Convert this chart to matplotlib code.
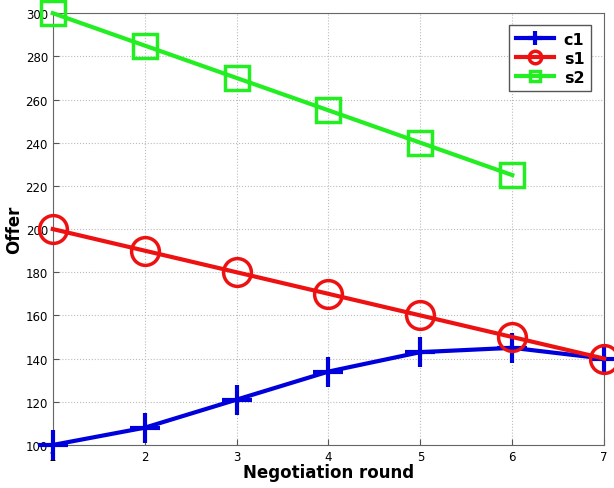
import matplotlib
matplotlib.use('Agg')
import matplotlib.pyplot as plt

rounds = [1, 2, 3, 4, 5, 6, 7]
c1 = [100, 108, 121, 134, 143, 145, 140]
s1 = [200, 190, 180, 170, 160, 150, 140]
s2_rounds = [1, 2, 3, 4, 5, 6]
s2 = [300, 285, 270, 255, 240, 225]

fig = plt.figure(figsize=(6.14, 4.89), dpi=100)
ax = fig.add_axes([0.086, 0.088, 0.898, 0.883])

ax.plot(rounds, c1, color='#0000dd', lw=3, marker='+', ms=22, mew=3, label='c1', clip_on=False, zorder=3)
ax.plot(rounds, s1, color='#ee1111', lw=3, marker='o', ms=20, mew=2.5, mfc='none', label='s1', clip_on=False, zorder=3)
ax.plot(s2_rounds, s2, color='#22ee22', lw=3, marker='s', ms=17, mew=2.5, mfc='none', label='s2', clip_on=False, zorder=3)

ax.set_xlim(1, 7)
ax.set_ylim(100, 300)
ax.set_xticks(rounds)
ax.set_yticks(range(100, 301, 20))
ax.tick_params(labelsize=8.5, direction='in', length=4, color='#555555')
ax.grid(True, linestyle=':', color='#bbbbbb', lw=0.8)
for sp in ax.spines.values():
    sp.set_color('#666666')

ax.set_xlabel('Negotiation round', fontsize=12, fontweight='bold', labelpad=0)
ax.set_ylabel('Offer', fontsize=12, fontweight='bold', labelpad=2)

leg = ax.legend(loc='upper right', markerscale=0.45, handlelength=2.4,
                fancybox=False, framealpha=1, edgecolor='#555555',
                borderpad=0.4, labelspacing=0.25, handletextpad=0.6,
                bbox_to_anchor=(0.99, 0.99),
                prop={'weight': 'bold', 'size': 11.5})
leg.set_zorder(5)

fig.savefig('out.png', dpi=100)
